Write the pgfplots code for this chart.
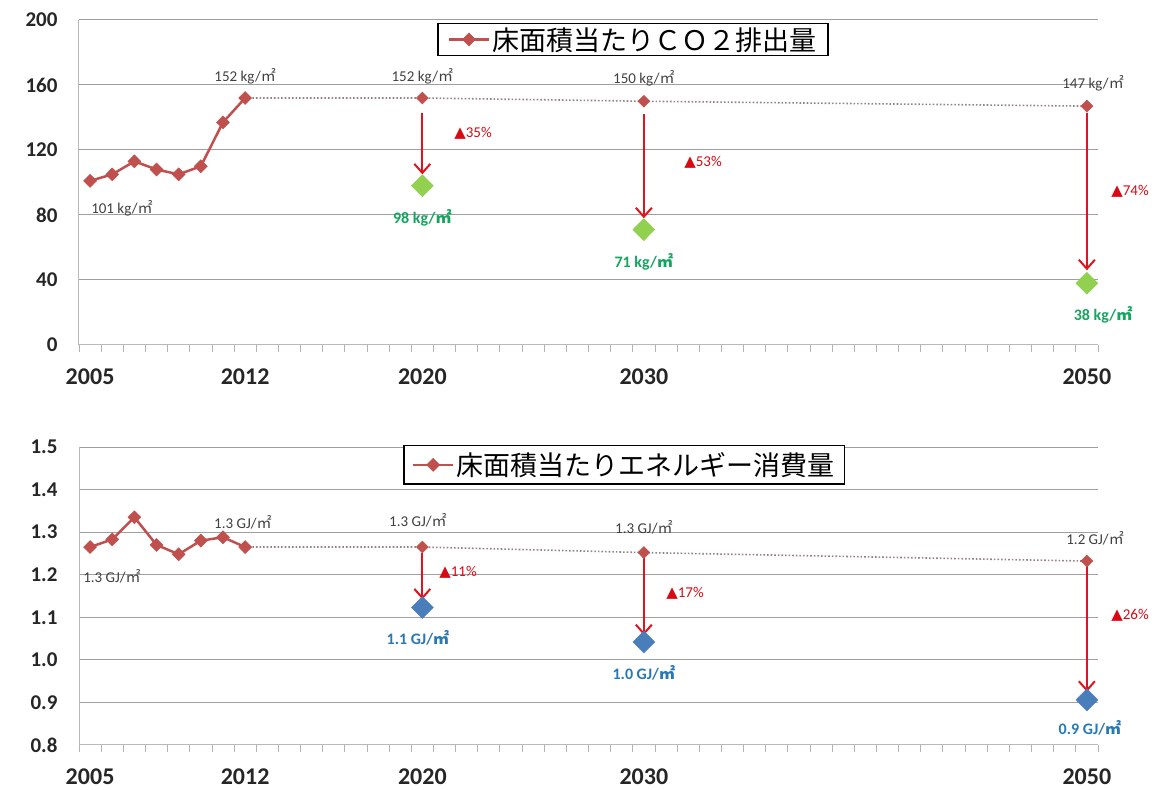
\documentclass[border=0pt]{standalone}
\usepackage{fontspec}
\setmainfont{Carlito}
\newfontfamily\cjk{Noto Sans CJK JP}
\newfontfamily\dejavu{DejaVu Sans}
\usepackage{pgfplots}
\pgfplotsset{compat=1.18}
\usetikzlibrary{arrows.meta}

\definecolor{xlred}{RGB}{192,80,77}
\definecolor{arrred}{RGB}{225,20,30}
\definecolor{pctred}{RGB}{215,10,20}
\definecolor{mkgreen}{RGB}{146,208,80}
\definecolor{txgreen}{RGB}{20,165,95}
\definecolor{mkblue}{RGB}{74,126,187}
\definecolor{txblue}{RGB}{40,120,180}
\definecolor{dotgray}{RGB}{150,130,130}

\newcommand{\sqm}{{\cjk ㎡}}
\newcommand{\tri}{{\dejavu ▲}}

\tikzset{
  lbl/.style={font=\fontsize{15}{17}\selectfont, text=black!75},
  glbl/.style={font=\fontsize{16}{18}\selectfont\bfseries, text=txgreen},
  blbl/.style={font=\fontsize{16}{18}\selectfont\bfseries, text=txblue},
  plbl/.style={font=\fontsize{15}{17}\selectfont, text=pctred},
}

\pgfplotsset{
  panel/.style={
    scale only axis, width=1019pt,
    xmin=2004.5, xmax=2050.5,
    axis x line=bottom, axis y line=left,
    axis line style={-, draw=gray!55, line width=1pt},
    xtick={2005,2012,2020,2030,2050},
    minor xtick={2004.5,2005.5,...,2050.5},
    major tick length=0pt, minor tick length=7pt, tick align=outside,
    minor tick style={gray!60, line width=0.8pt},
    ytick style={draw=none},
    ymajorgrids, major grid style={gray!75, line width=1pt},
    tick label style={font=\fontsize{21}{24}\selectfont\bfseries, text=black!85},
    /pgf/number format/assume math mode=true,
    xticklabel style={/pgf/number format/1000 sep={}, yshift=-20pt,
      font=\fontsize{24}{27}\selectfont\bfseries},
    yticklabel style={xshift=-18pt},
    clip=false,
    legend cell align=left,
    legend image code/.code={\draw[mark repeat=2, mark phase=2, #1]
      plot coordinates {(0pt,0pt) (20pt,0pt) (40pt,0pt)};},
  },
  actual/.style={xlred, line width=2.5pt, mark=diamond*, mark size=6.5pt,
    mark options={xscale=1.33, line width=0.5pt, solid}},
  proj/.style={dotgray, dotted, line width=1.6pt, forget plot},
  projmark/.style={only marks, xlred, mark=diamond*, mark size=6pt,
    mark options={xscale=1.33}, forget plot},
  target/.style={only marks, mark=diamond*, mark size=11pt,
    mark options={xscale=1.33, draw=#1, fill=#1}, forget plot},
  down/.style={arrred, line width=2pt, forget plot,
    -{Straight Barb[length=9pt, width=16pt, line width=2pt]}},
}

\begin{document}
\begin{tikzpicture}
\useasboundingbox (0,0) rectangle (1165pt,790pt);

% ---- CO2 per floor area ----
\begin{axis}[panel, at={(79pt,445pt)}, anchor=south west, height=325pt,
  ymin=0, ymax=200, ytick={0,40,80,120,160,200},
  legend style={at={(rel axis cs:0.5437,0.94)}, anchor=center, draw=black,
    line width=1.6pt, fill=white, font=\cjk\fontsize{27}{30}\selectfont,
    inner xsep=10pt, inner ysep=2pt}]
\addplot[actual] coordinates {
  (2005,101) (2006,105) (2007,113) (2008,108) (2009,105) (2010,110) (2011,137) (2012,152)
};
\addlegendentry{床面積当たりＣＯ２排出量}
\addplot[proj] coordinates {(2012,152) (2020,152) (2030,150) (2050,147)};
\addplot[projmark] coordinates {(2020,152) (2030,150) (2050,147)};
\addplot[down] coordinates {(2020,143) (2020,105)};
\addplot[down] coordinates {(2030,142) (2030,78)};
\addplot[down] coordinates {(2050,143) (2050,46)};
\addplot[target=mkgreen] coordinates {(2020,98) (2030,71) (2050,38)};

\node[lbl] at (axis cs:2012,165.5) {152 kg/\sqm};
\node[lbl] at (axis cs:2006.44,84.3) {101 kg/\sqm};
\node[lbl] at (axis cs:2020,165.5) {152 kg/\sqm};
\node[lbl] at (axis cs:2030,164.3) {150 kg/\sqm};
\node[lbl] at (axis cs:2050.28,161.2) {147 kg/\sqm};
\node[glbl] at (axis cs:2020,78.2) {98 kg/\sqm};
\node[glbl] at (axis cs:2030,51.1) {71 kg/\sqm};
\node[glbl] at (axis cs:2050.73,18.5) {38 kg/\sqm};
\node[plbl] at (axis cs:2022.29,130.5) {\tri35\%};
\node[plbl] at (axis cs:2032.67,112.6) {\tri53\%};
\node[plbl] at (axis cs:2051.95,94.8) {\tri74\%};
\end{axis}

% ---- energy per floor area ----
\begin{axis}[panel, at={(79pt,45pt)}, anchor=south west, height=298pt,
  ymin=0.8, ymax=1.5, ytick={0.8,0.9,1.0,1.1,1.2,1.3,1.4,1.5},
  yticklabel style={/pgf/number format/.cd, fixed, fixed zerofill, precision=1},
  legend style={at={(rel axis cs:0.535,0.94)}, anchor=center, draw=black,
    line width=1.6pt, fill=white, font=\cjk\fontsize{27}{30}\selectfont,
    inner xsep=8pt, inner ysep=5pt}]
\addplot[actual] coordinates {
  (2005,1.265) (2006,1.283) (2007,1.335) (2008,1.270) (2009,1.248) (2010,1.280) (2011,1.288) (2012,1.265)
};
\addlegendentry{床面積当たりエネルギー消費量}
\addplot[proj] coordinates {(2012,1.265) (2020,1.265) (2030,1.252) (2050,1.232)};
\addplot[projmark] coordinates {(2020,1.265) (2030,1.252) (2050,1.232)};
\addplot[down] coordinates {(2020,1.250) (2020,1.142)};
\addplot[down] coordinates {(2030,1.240) (2030,1.058)};
\addplot[down] coordinates {(2050,1.220) (2050,0.925)};
\addplot[target=mkblue] coordinates {(2020,1.123) (2030,1.042) (2050,0.906)};

\node[lbl] at (axis cs:2011.9,1.324) {1.3 GJ/\sqm};
\node[lbl] at (axis cs:2005.99,1.197) {1.3 GJ/\sqm};
\node[lbl] at (axis cs:2019.8,1.329) {1.3 GJ/\sqm};
\node[lbl] at (axis cs:2030,1.312) {1.3 GJ/\sqm};
\node[lbl] at (axis cs:2050.37,1.286) {1.2 GJ/\sqm};
\node[blbl] at (axis cs:2019.8,1.051) {1.1 GJ/\sqm};
\node[blbl] at (axis cs:2030,0.969) {1.0 GJ/\sqm};
\node[blbl] at (axis cs:2050.14,0.840) {0.9 GJ/\sqm};
\node[plbl] at (axis cs:2021.61,1.206) {\tri11\%};
\node[plbl] at (axis cs:2031.86,1.157) {\tri17\%};
\node[plbl] at (axis cs:2051.95,1.105) {\tri26\%};
\end{axis}
\end{tikzpicture}
\end{document}
